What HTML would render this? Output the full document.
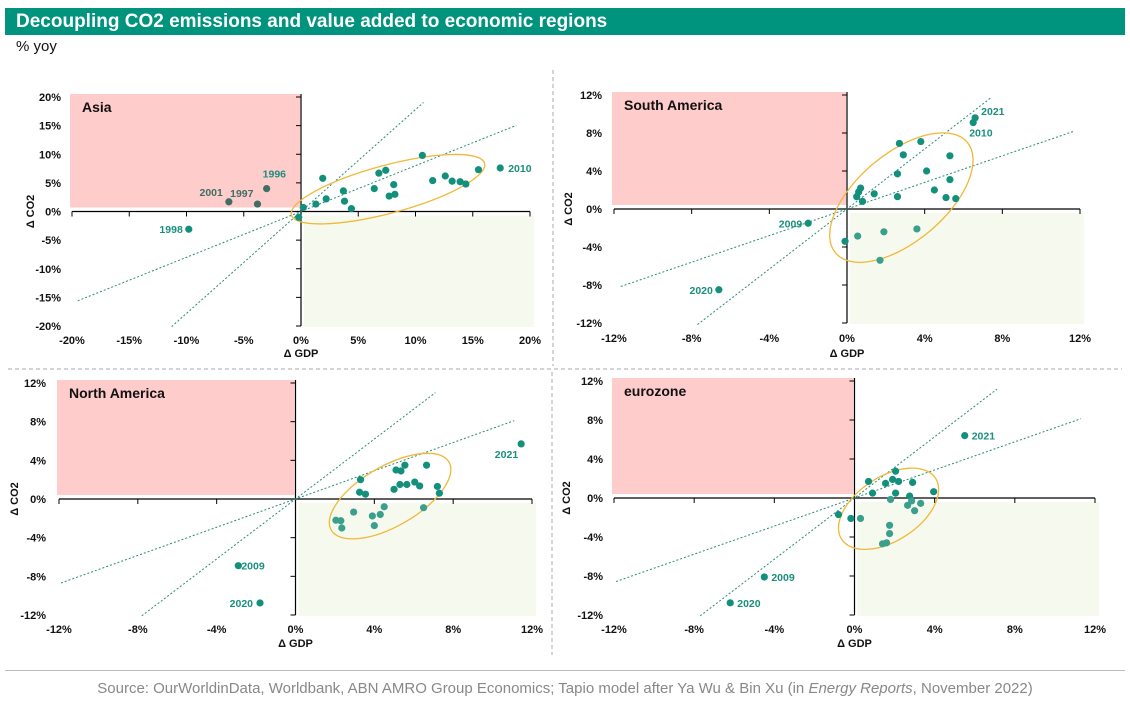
<!DOCTYPE html>
<html><head><meta charset="utf-8">
<style>
body{margin:0;background:#fff;width:1130px;height:703px;overflow:hidden;font-family:"Liberation Sans",Arial,sans-serif}
#title{position:absolute;left:5px;top:8px;width:1120px;height:27px;background:#00937d;color:#fff;font-weight:bold;font-size:19px;line-height:27px;padding-left:11px;box-sizing:border-box}
#yoy{position:absolute;left:16px;top:38px;font-size:15px;color:#111}
#src{position:absolute;left:0;width:1130px;top:680px;text-align:center;font-size:15px;color:#888}
#rule{position:absolute;left:5px;width:1120px;top:670px;border-top:1px solid #bbb}
svg{position:absolute;left:0;top:0}
</style></head><body>
<div id="title">Decoupling CO2 emissions and value added to economic regions</div>
<div id="yoy">% yoy</div>
<div id="rule"></div>
<div id="src">Source: OurWorldinData, Worldbank, ABN AMRO Group Economics; Tapio model after Ya Wu &amp; Bin Xu (in <i>Energy Reports</i>, November 2022)</div>
<svg id="chart" width="1130" height="703">
<line x1="553" y1="70" x2="553" y2="366" stroke="#aaa" stroke-dasharray="4,3"/>
<line x1="8" y1="369" x2="1122" y2="369" stroke="#aaa" stroke-dasharray="4,3"/>
<line x1="552" y1="372" x2="552" y2="655" stroke="#aaa" stroke-dasharray="4,3"/>
</svg>
<script>
// ---- data ----
const asiaX=[-9.8,-6.3,-3.8,-3.0,-0.2,0.2,1.3,1.9,2.2,3.7,3.8,4.4,6.4,6.8,7.4,7.7,8.1,8.2,10.6,11.5,12.6,13.2,13.9,14.4,15.5,17.4];
const asiaY=[-3.1,1.7,1.3,4.0,-1.0,0.7,1.3,5.8,2.2,3.6,1.8,0.5,4.0,6.7,7.2,2.7,4.7,3.0,9.8,5.4,6.2,5.3,5.2,4.8,7.3,7.6];
const asiaLabels=["1998","2001","1997","1996","","","","","","","","","","","","","","","","","","","","","","2010"];
const saX=[6.6,6.5,2.7,3.8,2.9,5.3,2.6,4.1,5.3,4.5,5.1,5.6,2.6,1.4,0.7,0.6,0.5,0.8,-2.0,-0.1,0.55,1.9,3.6,1.7,-6.6];
const saY=[9.6,9.1,6.9,7.1,5.7,5.6,3.7,4.0,3.1,2.0,1.2,1.1,1.3,1.6,2.2,1.8,1.3,0.8,-1.5,-3.4,-2.85,-2.4,-2.1,-5.4,-8.5];
const saLabels=["2021","2010","","","","","","","","","","","","","","","","","2009","","","","","","2020"];
const naX=[11.45,3.3,3.25,3.55,5.1,5.35,5.55,6.65,5.0,5.3,5.65,6.05,6.3,7.2,7.3,6.5,4.5,4.3,3.9,4.0,2.95,2.05,2.3,2.35,-2.9,-1.8];
const naY=[5.7,2.0,0.7,0.5,3.0,2.9,3.5,3.5,1.0,1.5,1.5,1.75,1.35,1.3,0.6,-0.9,-0.8,-1.6,-1.75,-2.75,-1.35,-2.2,-2.25,-3.0,-6.9,-10.75];
const naLabels=["2021","","","","","","","","","","","","","","","","","","","","","","","","2009","2020"];
const ezX=[5.5,-4.5,-6.2,-0.8,-0.18,0.3,0.7,0.9,1.55,1.9,2.05,2.2,2.05,1.8,2.9,2.75,2.85,2.65,3.3,3.0,3.95,1.75,1.75,1.6,1.4];
const ezY=[6.4,-8.1,-10.75,-1.7,-2.1,-2.1,1.7,0.5,1.5,1.9,2.75,1.7,0.5,-0.15,1.6,0.2,-0.3,-0.75,-0.55,-1.3,0.65,-2.8,-3.65,-4.6,-4.7];
const ezLabels=["2021","2009","2020","","","","","","","","","","","","","","","","","","","","","",""];
const asiaTicks=[-20,-15,-10,-5,0,5,10,15,20];
const otherTicks=[-12,-8,-4,0,4,8,12];
const asiaSlopes=[1.78,0.8], saSlopes=[1.58,0.7], naSlopes=[1.55,0.73], ezSlopes=[1.57,0.72];

// ---- layout ----
const NS="http://www.w3.org/2000/svg";
const svg=document.getElementById('chart');
function mk(tag,attrs,parent){const e=document.createElementNS(NS,tag);for(const k in attrs)e.setAttribute(k,attrs[k]);(parent||svg).appendChild(e);return e;}
const panels=[
 {key:'asia',title:'Asia',xs:asiaX,ys:asiaY,lb:asiaLabels,ticks:asiaTicks,slopes:asiaSlopes,
  lineRange:[[-11.3,10.7],[-19.5,18.8]],px:[72,530],py:[97,326],ylabX:61,xlabY:344,gdpY:357,co2X:34,
  ell:{cx:7.6,cy:3.9,a:100,b:24,ang:-15},
  lbOff:{"1998":[-6,4,'end'],"2001":[-6,-6,'end'],"1997":[-4,-7,'end'],"1996":[-4,-11,'start'],"2010":[8,4,'start']}},
 {key:'south-america',title:'South America',xs:saX,ys:saY,lb:saLabels,ticks:otherTicks,slopes:saSlopes,
  lineRange:[[-7.7,7.4],[-11.65,11.65]],px:[614,1080],py:[95,323],ylabX:602,xlabY:342,gdpY:357,co2X:572,
  ell:{cx:2.8,cy:1.2,a:86,b:44,ang:-40},
  lbOff:{"2021":[6,-3,'start'],"2010":[-4,14,'start'],"2009":[-6,4,'end'],"2020":[-6,4,'end']}},
 {key:'north-america',title:'North America',xs:naX,ys:naY,lb:naLabels,ticks:otherTicks,slopes:naSlopes,
  lineRange:[[-7.8,7.1],[-11.9,11.1]],px:[59,532],py:[383,615],ylabX:46,xlabY:633,gdpY:647,co2X:18,
  ell:{cx:4.8,cy:0.3,a:68,b:30,ang:-30},
  lbOff:{"2021":[-3,14,'end'],"2009":[3,4,'start'],"2020":[-7,4,'end']}},
 {key:'eurozone',title:'eurozone',xs:ezX,ys:ezY,lb:ezLabels,ticks:otherTicks,slopes:ezSlopes,
  lineRange:[[-7.7,7.1],[-11.9,11.3]],px:[614,1095],py:[381,615],ylabX:603,xlabY:633,gdpY:647,co2X:570,
  ell:{cx:1.7,cy:-1.1,a:56,b:32,ang:-33},
  lbOff:{"2021":[7,4,'start'],"2009":[7,4,'start'],"2020":[7,4,'start']}}
];
const FONT='"Liberation Sans Narrow","Liberation Sans",Arial,sans-serif';
panels.forEach(p=>{
  const t0=p.ticks[0],t1=p.ticks[p.ticks.length-1];
  const X=v=>p.px[0]+(v-t0)/(t1-t0)*(p.px[1]-p.px[0]);
  const Y=v=>p.py[1]-(v-t0)/(t1-t0)*(p.py[1]-p.py[0]);
  const g=mk('g',{});
  
  
  const x0=X(0),y0=Y(0);
  const pink=mk('rect',{x:p.px[0]-2,y:p.py[0]-3,width:x0-p.px[0]+1,height:y0-p.py[0]-1,fill:'#ffcccc'},g);
  
  
  const grn=mk('rect',{x:x0+3,y:y0+4,width:p.px[1]-x0+1,height:p.py[1]-y0-3,fill:'#f6faee'},g);
  
  
  const tt=mk('text',{x:p.px[0]+10,y:p.py[0]+15,'font-size':14,'font-weight':'bold',fill:'#111','font-family':'"Liberation Sans",Arial,sans-serif'},g);
  tt.textContent=p.title;
  
  
  // axes
  const xa=mk('line',{x1:p.px[0],y1:y0,x2:p.px[1],y2:y0,stroke:'#000','stroke-width':1.2},g);
  
  
  const ya=mk('line',{x1:x0,y1:p.py[0]-3,x2:x0,y2:p.py[1],stroke:'#000','stroke-width':1.2},g);
  
  
  p.ticks.forEach(v=>{
    mk('line',{x1:X(v),y1:y0,x2:X(v),y2:y0+5,stroke:'#000'},g);
    mk('line',{x1:x0-5,y1:Y(v),x2:x0,y2:Y(v),stroke:'#000'},g);
    const xl=mk('text',{x:X(v),y:p.xlabY,'font-size':11,'font-weight':'bold','text-anchor':'middle',fill:'#111','font-family':FONT},g);
    xl.textContent=v+'%';
    
    
    const yl=mk('text',{x:p.ylabX,y:Y(v)+4,'font-size':11,'font-weight':'bold','text-anchor':'end',fill:'#111','font-family':FONT},g);
    yl.textContent=v+'%';
    
    
  });
  const gt=mk('text',{x:x0,y:p.gdpY,'font-size':11,'font-weight':'bold','text-anchor':'middle',fill:'#111','font-family':FONT},g);
  gt.textContent='Δ GDP';
  
  
  const ct=mk('text',{x:p.co2X,y:y0,'font-size':11,'font-weight':'bold','text-anchor':'middle',fill:'#111','font-family':FONT,transform:`rotate(-90 ${p.co2X} ${y0})`},g);
  ct.textContent='Δ CO2';
  
  
  // elasticity lines
  p.slopes.forEach((s,i)=>{
    const r=p.lineRange[i];
    const ln=mk('line',{x1:X(r[0]),y1:Y(r[0]*s),x2:X(r[1]),y2:Y(r[1]*s),stroke:'#2a8a7a','stroke-width':1,'stroke-dasharray':'2,2'},g);
    
    
  });
  // ellipse
  const e=p.ell;
  const el=mk('ellipse',{cx:X(e.cx),cy:Y(e.cy),rx:e.a,ry:e.b,fill:'none',stroke:'#f0b838','stroke-width':1.3,transform:`rotate(${e.ang} ${X(e.cx)} ${Y(e.cy)})`},g);
  
  
  // points
  p.xs.forEach((xv,i)=>{
    const yv=p.ys[i];
    let col='#13907b';
    if(xv>0&&yv<0) col='#3aa08d';
    if(p.key==='asia'&&xv<0&&yv>0) col='#3f6e63';
    const c=mk('circle',{cx:X(xv),cy:Y(yv),r:3.6,fill:col},g);
    
    
    const lab=p.lb[i];
    if(lab){
      const o=p.lbOff[lab]||[6,4,'start'];
      const lc=(p.key==='asia'&&(lab==='2001'||lab==='1997'))?'#3f6e63':'#1a8f7c';
      const tx=mk('text',{x:X(xv)+o[0],y:Y(yv)+o[1],'font-size':10.5,'font-weight':'bold','text-anchor':o[2],fill:lc,'font-family':FONT},g);
      tx.textContent=lab;
      
      
    }
  });
});
</script>
</body></html>
